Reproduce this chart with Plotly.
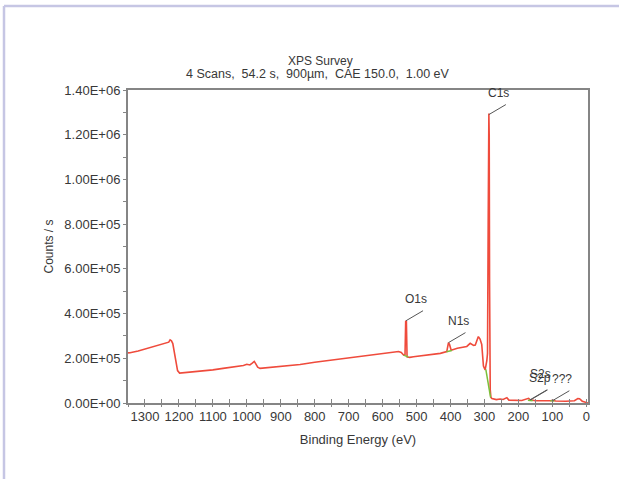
import plotly.graph_objects as go

# Survey spectrum: binding energy (eV) and count rate (counts/s)
energy = [1350, 1344, 1320, 1296, 1270, 1241, 1230, 1226, 1222, 1218, 1210, 1204, 1198,
          1180, 1160, 1138, 1100, 1070, 1041, 1010, 1000, 991, 984, 978, 974, 968, 961,
          940, 900, 843, 800, 746, 700, 647, 607, 568, 553, 545, 538, 534, 532, 530, 528,
          520, 509, 460, 430, 411, 406, 403, 398, 380, 365, 352, 342, 332, 327, 318, 313,
          308, 303, 298, 293, 291, 289, 288, 287, 286, 285, 284, 283, 281, 278, 265, 254,
          245, 234, 228, 210, 190, 170, 165, 150, 130, 105, 100, 90, 60, 35, 25, 20, 12, 3, -5]
counts = [2.24e5, 2.25e5, 2.33e5, 2.43e5, 2.52e5, 2.64e5, 2.72e5, 2.82e5, 2.78e5, 2.66e5,
          2.00e5, 1.45e5, 1.34e5, 1.36e5, 1.38e5, 1.41e5, 1.48e5, 1.55e5, 1.61e5, 1.68e5,
          1.73e5, 1.70e5, 1.78e5, 1.86e5, 1.76e5, 1.60e5, 1.55e5, 1.58e5, 1.64e5, 1.72e5,
          1.82e5, 1.92e5, 2.00e5, 2.10e5, 2.20e5, 2.26e5, 2.30e5, 2.26e5, 2.14e5, 2.16e5,
          3.68e5, 3.65e5, 2.06e5, 2.04e5, 2.07e5, 2.15e5, 2.22e5, 2.30e5, 2.70e5, 2.62e5,
          2.36e5, 2.45e5, 2.50e5, 2.53e5, 2.67e5, 2.58e5, 2.59e5, 2.97e5, 2.86e5, 2.62e5,
          1.65e5, 1.48e5, 1.90e5, 2.22e5, 8.00e5, 1.28e6, 1.295e6, 1.20e6, 5.50e5, 1.70e5,
          6.0e4, 2.5e4, 2.0e4, 1.5e4, 1.8e4, 1.6e4, 2.4e4, 1.3e4, 1.2e4, 1.1e4, 2.1e4,
          1.4e4, 1.0e4, 9.0e3, 1.0e4, 1.2e4, 9.0e3, 8.0e3, 1.0e4, 2.0e4, 1.9e4, 8.0e3,
          2.0e3, 0.0]

# Peak-region background lines (None separates the regions)
bg_energy = [538, 524, None, 412, 396, None, 296, 282, None, 172, 158, None, 106, 94]
bg_counts = [2.14e5, 2.05e5, None, 2.29e5, 2.35e5, None, 1.50e5, 2.5e4, None,
             1.2e4, 1.0e4, None, 1.0e4, 9.0e3]

# Peak labels: name, energy, counts at the leader start, extra text lift (px)
peak_names = ["C1s", "O1s", "N1s", "S2p", "S2s", "???"]
peak_energy = [287, 531, 406, 166, 164, 100]
peak_counts = [1.29e6, 3.68e5, 2.70e5, 1.4e4, 1.4e4, 1.0e4]
peak_lift = [0, 0, 0, 0, 4, 0]

y_ticks = [0, 2e5, 4e5, 6e5, 8e5, 1e6, 1.2e6, 1.4e6]
y_ticktext = ["0.00E+00", "2.00E+05", "4.00E+05", "6.00E+05", "8.00E+05",
              "1.00E+06", "1.20E+06", "1.40E+06"]
x_ticks = [1300, 1200, 1100, 1000, 900, 800, 700, 600, 500, 400, 300, 200, 100, 0]

font_family = "Liberation Sans, Arial, sans-serif"
text_color = "#383838"
axis_color = "#858585"

fig = go.Figure()
fig.add_trace(go.Scatter(x=energy, y=counts, mode="lines",
                         line=dict(color="#ef4b3c", width=1.6), hoverinfo="skip"))
fig.add_trace(go.Scatter(x=bg_energy, y=bg_counts, mode="lines",
                         line=dict(color="#7cbf3a", width=1.5), hoverinfo="skip"))
# Invisible trace so the tick-crossing overlay axis is drawn
fig.add_trace(go.Scatter(x=[0], y=[0], xaxis="x2", mode="markers",
                         marker=dict(opacity=0), hoverinfo="skip"))

# Leader lines and labels
for name, ev, ct, lift in zip(peak_names, peak_energy, peak_counts, peak_lift):
    fig.add_shape(type="line", xref="x", yref="y", xsizemode="pixel", ysizemode="pixel",
                  xanchor=ev, yanchor=ct, x0=0, y0=0, x1=17, y1=10,
                  line=dict(color="#555555", width=1))
    fig.add_annotation(x=ev, y=ct, xref="x", yref="y", text=name, showarrow=False,
                       xshift=10, yshift=22 + lift,
                       font=dict(size=12, color=text_color, family=font_family))

fig.update_layout(
    width=619, height=479,
    margin=dict(l=128, r=31, t=90, b=76),
    paper_bgcolor="white", plot_bgcolor="white",
    showlegend=False,
    font=dict(family=font_family, size=13, color=text_color),
    xaxis=dict(range=[1350, -5], tickvals=x_ticks, ticks="inside", ticklen=4,
               tickcolor=axis_color, tickwidth=1, showgrid=False, zeroline=False,
               showline=True, linecolor=axis_color, linewidth=2, mirror=True,
               minor=dict(dtick=50, ticks="inside", ticklen=4, tickcolor=axis_color),
               tickfont=dict(size=13), title=dict(text="Binding Energy (eV)",
                                                   font=dict(size=13), standoff=12)),
    xaxis2=dict(overlaying="x", matches="x", side="bottom", anchor="y", range=[1350, -5],
                tickmode="linear", tick0=0, dtick=50, ticks="outside", ticklen=3,
                tickcolor=axis_color, showticklabels=False, showgrid=False,
                zeroline=False, showline=False),
    yaxis=dict(range=[0, 1.4e6], tickvals=y_ticks, ticktext=y_ticktext, ticks="outside",
               ticklen=3, tickcolor=axis_color, showgrid=False, zeroline=False,
               showline=True, linecolor=axis_color, linewidth=2, mirror=True,
               minor=dict(dtick=1e5, ticks="outside", ticklen=3, tickcolor=axis_color),
               tickfont=dict(size=13), title=dict(text="Counts / s",
                                                   font=dict(size=12), standoff=8)),
)

# Two-line heading (paper coordinates of a 460x313 px plot area)
fig.add_annotation(x=(320 - 128) / 460, y=(403 - 61) / 313, xref="paper", yref="paper",
                   text="XPS Survey", showarrow=False, yanchor="middle",
                   font=dict(size=12, color=text_color))
fig.add_annotation(x=(318 - 128) / 460, y=(403 - 74) / 313, xref="paper", yref="paper",
                   text="4 Scans,  54.2 s,  900µm,  CAE 150.0,  1.00 eV",
                   showarrow=False, yanchor="middle",
                   font=dict(size=12.5, color=text_color))

# Outer lavender frame (top and left edges)
frame_left = (4 - 128) / 460
frame_top = (403 - 6) / 313
fig.add_shape(type="line", xref="paper", yref="paper", x0=frame_left, x1=(619 - 128) / 460,
              y0=frame_top, y1=frame_top, line=dict(color="#c6c6e4", width=2.5))
fig.add_shape(type="line", xref="paper", yref="paper", x0=frame_left, x1=frame_left,
              y0=(403 - 479) / 313, y1=frame_top, line=dict(color="#c6c6e4", width=2.5))

fig.write_html("out.html")
